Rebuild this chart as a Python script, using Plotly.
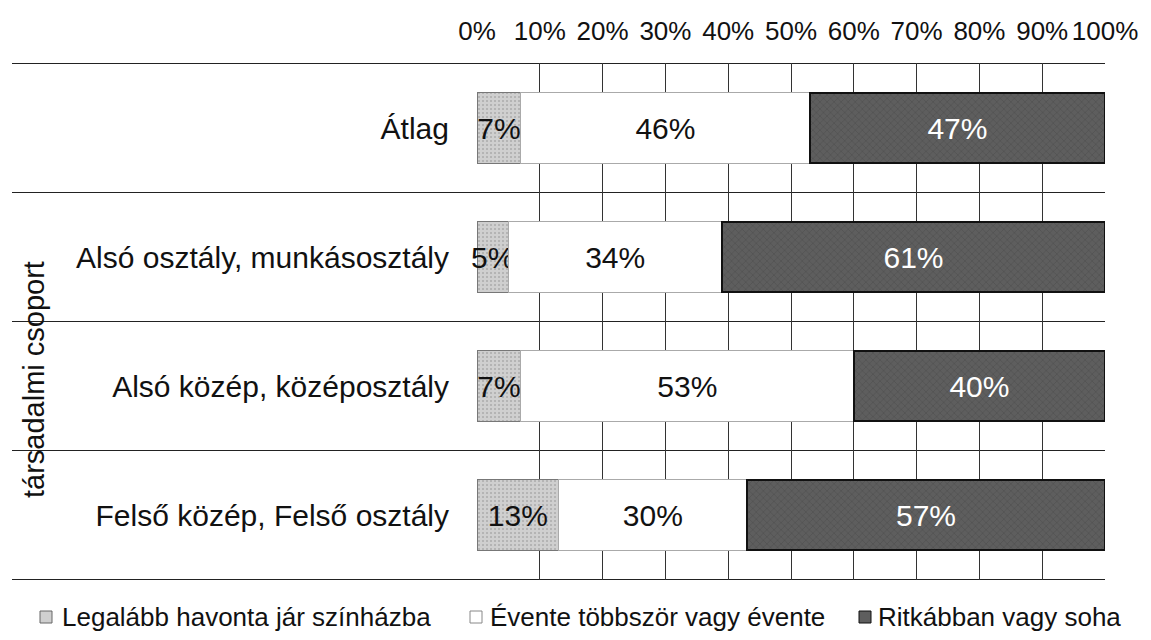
import plotly.graph_objects as go

categories = ["Átlag", "Alsó osztály, munkásosztály", "Alsó közép, középosztály", "Felső közép, Felső osztály"]
series_names = ["Legalább havonta jár színházba", "Évente többször vagy évente", "Ritkábban vagy soha"]
monthly = [7, 5, 7, 13]
yearly = [46, 34, 53, 30]
rarely = [47, 61, 40, 57]
tick_vals = [0, 10, 20, 30, 40, 50, 60, 70, 80, 90, 100]
tick_text = [f"{v}%" for v in tick_vals]

FONT = "Liberation Sans, Arial, sans-serif"
OFF = 8  # page body margin offset
W, H = 1151 - OFF, 640 - OFF
# plot area in screen pixels: x 477..1105, y 63..580
ML = 477 - OFF
MT = 63 - OFF
MR = W - (1105 - OFF)
MB = H - (580 - OFF)
PW, PH = W - ML - MR, H - MT - MB


def px_x(sx):
    return (sx - OFF - ML) / PW


def px_y(sy):
    return (H - MB - (sy - OFF)) / PH


styles = [
    dict(color="#cfcfcf", line=dict(color="#777777", width=1),
         pattern=dict(shape=".", fgcolor="#888888", size=4, solidity=0.2), text="#111111"),
    dict(color="#ffffff", line=dict(color="#aaaaaa", width=1), pattern=None, text="#111111"),
    dict(color="#5e5e5e", line=dict(color="#111111", width=2),
         pattern=dict(shape="x", fgcolor="#444444", size=5, solidity=0.25), text="#ffffff"),
]
legend_borders = ["#666666", "#888888", "#111111"]

fig = go.Figure()
for name, vals, st in zip(series_names, [monthly, yearly, rarely], styles):
    marker = dict(color=st["color"], line=st["line"])
    if st["pattern"]:
        marker["pattern"] = st["pattern"]
    fig.add_trace(go.Bar(
        y=categories, x=vals, name=name, orientation="h",
        marker=marker, width=0.55,
        text=[f"{v}%" for v in vals], textposition="inside", textangle=0,
        insidetextanchor="middle", constraintext="none", cliponaxis=False,
        textfont=dict(size=30, color=st["text"], family=FONT),
        hoverinfo="skip", showlegend=False,
    ))

# category separator lines extending into label area
for i in range(len(categories) + 1):
    fig.add_shape(type="line", xref="paper", yref="y",
                  x0=px_x(12), x1=1.0, y0=i - 0.5, y1=i - 0.5,
                  line=dict(color="#222222", width=1), layer="below")

# axis title
fig.add_annotation(text="társadalmi csoport", textangle=-90, xref="paper", yref="paper",
                   x=px_x(34), y=px_y(380), showarrow=False, xanchor="center", yanchor="middle",
                   font=dict(size=29, color="#111111", family=FONT))

# manual legend
legend_sym_x = [40, 470, 859]
legend_txt_x = [60, 488, 876]
legend_y = 617
for name, st, bc, sx, tx in zip(series_names, styles, legend_borders, legend_sym_x, legend_txt_x):
    fig.add_shape(type="rect", xref="paper", yref="paper",
                  x0=px_x(sx), x1=px_x(sx + 12), y0=px_y(legend_y + 6), y1=px_y(legend_y - 6),
                  fillcolor=st["color"], line=dict(color=bc, width=1))
    fig.add_annotation(text=name, xref="paper", yref="paper", x=px_x(tx), y=px_y(legend_y),
                       xanchor="left", yanchor="middle", showarrow=False,
                       font=dict(size=26, color="#111111", family=FONT))

fig.update_layout(
    barmode="stack",
    width=W, height=H,
    margin=dict(l=ML, r=MR, t=MT, b=MB, autoexpand=False),
    paper_bgcolor="white", plot_bgcolor="white",
    font=dict(family=FONT, color="#111111"),
    xaxis=dict(side="top", range=[0, 100], tickvals=tick_vals, ticktext=tick_text,
               showgrid=True, gridcolor="#333333", gridwidth=1, zeroline=False,
               tickfont=dict(size=26), ticks="", showline=False, fixedrange=True,
               ticklabelstandoff=17),
    yaxis=dict(autorange="reversed", tickfont=dict(size=30), ticks="", showgrid=False,
               showline=False, ticklabelstandoff=27),
    showlegend=False,
)

fig.write_html("out.html")
